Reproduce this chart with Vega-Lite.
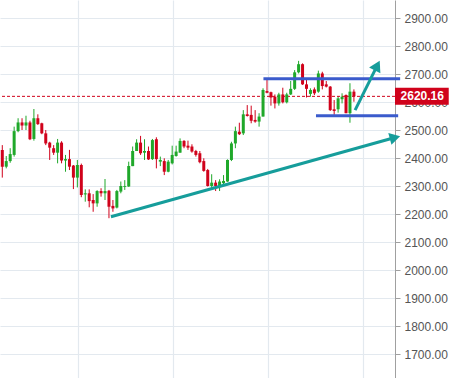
{
  "$schema": "https://vega.github.io/schema/vega-lite/v6.json",
  "width": 395,
  "height": 378,
  "padding": {"left": 0, "top": 0, "right": 54, "bottom": 0},
  "autosize": {"type": "none"},
  "background": "white",
  "config": {"view": {"stroke": null}, "font": "Liberation Sans", "scale": {"continuousPadding": 0}},
  "datasets": {
    "candles": [
      {"i":1,"o":2429,"h":2446,"l":2330,"c":2369},{"i":2,"o":2369,"h":2407,"l":2363,"c":2389},{"i":3,"o":2389,"h":2435,"l":2383,"c":2414},{"i":4,"o":2411,"h":2512,"l":2405,"c":2496},{"i":5,"o":2496,"h":2542,"l":2492,"c":2527},
      {"i":6,"o":2527,"h":2542,"l":2500,"c":2516},{"i":7,"o":2516,"h":2551,"l":2500,"c":2527},{"i":8,"o":2527,"h":2533,"l":2464,"c":2467},{"i":9,"o":2468,"h":2575,"l":2462,"c":2542},{"i":10,"o":2542,"h":2556,"l":2518,"c":2521},
      {"i":11,"o":2524,"h":2526,"l":2485,"c":2488},{"i":12,"o":2488,"h":2500,"l":2446,"c":2452},{"i":13,"o":2455,"h":2458,"l":2393,"c":2437},{"i":14,"o":2435,"h":2446,"l":2411,"c":2419},{"i":15,"o":2419,"h":2468,"l":2381,"c":2455},
      {"i":16,"o":2455,"h":2460,"l":2381,"c":2391},{"i":17,"o":2391,"h":2411,"l":2351,"c":2396},{"i":18,"o":2396,"h":2429,"l":2357,"c":2369},{"i":19,"o":2373,"h":2375,"l":2289,"c":2330},{"i":20,"o":2330,"h":2393,"l":2295,"c":2375},
      {"i":21,"o":2375,"h":2380,"l":2260,"c":2268},{"i":22,"o":2270,"h":2288,"l":2244,"c":2274},{"i":23,"o":2274,"h":2288,"l":2224,"c":2246},{"i":24,"o":2250,"h":2271,"l":2208,"c":2238},{"i":25,"o":2238,"h":2285,"l":2226,"c":2282},
      {"i":26,"o":2282,"h":2292,"l":2262,"c":2274},{"i":27,"o":2274,"h":2325,"l":2250,"c":2282},{"i":28,"o":2283,"h":2286,"l":2185,"c":2226},{"i":29,"o":2229,"h":2250,"l":2208,"c":2220},{"i":30,"o":2223,"h":2286,"l":2220,"c":2282},
      {"i":31,"o":2280,"h":2316,"l":2274,"c":2300},{"i":32,"o":2297,"h":2321,"l":2286,"c":2300},{"i":33,"o":2298,"h":2387,"l":2297,"c":2371},{"i":34,"o":2371,"h":2441,"l":2371,"c":2425},{"i":35,"o":2425,"h":2467,"l":2425,"c":2455},
      {"i":36,"o":2455,"h":2479,"l":2411,"c":2417},{"i":37,"o":2419,"h":2467,"l":2393,"c":2425},{"i":38,"o":2425,"h":2441,"l":2393,"c":2395},{"i":39,"o":2396,"h":2468,"l":2393,"c":2464},{"i":40,"o":2467,"h":2474,"l":2363,"c":2396},
      {"i":41,"o":2387,"h":2405,"l":2371,"c":2393},{"i":42,"o":2389,"h":2399,"l":2339,"c":2351},{"i":43,"o":2351,"h":2393,"l":2349,"c":2387},{"i":44,"o":2381,"h":2444,"l":2377,"c":2411},{"i":45,"o":2407,"h":2444,"l":2405,"c":2423},
      {"i":46,"o":2419,"h":2470,"l":2419,"c":2461},{"i":47,"o":2461,"h":2464,"l":2435,"c":2441},{"i":48,"o":2444,"h":2462,"l":2429,"c":2437},{"i":49,"o":2441,"h":2449,"l":2419,"c":2423},{"i":50,"o":2425,"h":2429,"l":2405,"c":2411},
      {"i":51,"o":2417,"h":2425,"l":2381,"c":2385},{"i":52,"o":2389,"h":2399,"l":2351,"c":2354},{"i":53,"o":2357,"h":2361,"l":2298,"c":2300},{"i":54,"o":2300,"h":2342,"l":2286,"c":2312},{"i":55,"o":2312,"h":2321,"l":2282,"c":2300},
      {"i":56,"o":2300,"h":2324,"l":2282,"c":2316},{"i":57,"o":2310,"h":2339,"l":2300,"c":2318},{"i":58,"o":2316,"h":2395,"l":2315,"c":2393},{"i":59,"o":2393,"h":2458,"l":2389,"c":2452},{"i":60,"o":2452,"h":2512,"l":2435,"c":2496},
      {"i":61,"o":2494,"h":2526,"l":2482,"c":2485},{"i":62,"o":2488,"h":2571,"l":2482,"c":2556},{"i":63,"o":2556,"h":2589,"l":2548,"c":2550},{"i":64,"o":2554,"h":2587,"l":2524,"c":2533},{"i":65,"o":2536,"h":2571,"l":2526,"c":2530},
      {"i":66,"o":2530,"h":2560,"l":2512,"c":2548},{"i":67,"o":2548,"h":2649,"l":2548,"c":2643},{"i":68,"o":2639,"h":2682,"l":2631,"c":2633},{"i":69,"o":2635,"h":2637,"l":2587,"c":2616},{"i":70,"o":2619,"h":2627,"l":2577,"c":2595},
      {"i":71,"o":2595,"h":2633,"l":2587,"c":2627},{"i":72,"o":2627,"h":2651,"l":2595,"c":2599},{"i":73,"o":2599,"h":2633,"l":2595,"c":2627},{"i":74,"o":2627,"h":2675,"l":2625,"c":2647},{"i":75,"o":2647,"h":2714,"l":2643,"c":2706},
      {"i":76,"o":2706,"h":2747,"l":2702,"c":2735},{"i":77,"o":2735,"h":2738,"l":2661,"c":2663},{"i":78,"o":2663,"h":2679,"l":2616,"c":2647},{"i":79,"o":2629,"h":2649,"l":2619,"c":2643},{"i":80,"o":2645,"h":2652,"l":2625,"c":2631},
      {"i":81,"o":2637,"h":2712,"l":2633,"c":2702},{"i":82,"o":2702,"h":2708,"l":2645,"c":2657},{"i":83,"o":2663,"h":2675,"l":2652,"c":2655},{"i":84,"o":2655,"h":2657,"l":2568,"c":2571},{"i":85,"o":2574,"h":2607,"l":2554,"c":2568},
      {"i":86,"o":2574,"h":2621,"l":2562,"c":2613},{"i":87,"o":2610,"h":2631,"l":2595,"c":2619},{"i":88,"o":2625,"h":2627,"l":2560,"c":2560},{"i":89,"o":2560,"h":2667,"l":2526,"c":2637},{"i":90,"o":2637,"h":2645,"l":2601,"c":2620.16}
    ],
    "levels": [
      {"start": 67.1, "end": 101.7, "price": 2683},
      {"start": 80.4, "end": 101.2, "price": 2551}
    ],
    "arrows": [
      {"id": "a1", "x0": 28.5, "y0": 2190, "x1": 100.4, "y1": 2473},
      {"id": "a2", "x0": 90.3, "y0": 2571, "x1": 95.9, "y1": 2730}
    ],
    "last": [{"price": 2620.16, "label": "2620.16"}]
  },
  "layer": [
    {
      "data": {"name": "candles"},
      "mark": {"type": "rule", "strokeWidth": 1},
      "encoding": {
        "x": {"field": "i", "type": "quantitative", "scale": {"domain": [0.42, 100.4], "nice": false, "zero": false, "padding": 0},
              "axis": {"values": [20.2, 44.2, 68.2, 92.2], "labels": false, "ticks": false, "domain": false, "grid": true, "gridColor": "#e3e9ef", "gridWidth": 1.2, "title": null}},
        "y": {"field": "l", "type": "quantitative", "scale": {"domain": [1614.3, 2964.3], "nice": false, "zero": false, "padding": 0},
              "axis": {"orient": "right", "values": [1700,1800,1900,2000,2100,2200,2300,2400,2500,2600,2700,2800,2900], "tickCount": 13, "format": ".2f", "title": null,
                       "tickSize": 5, "tickColor": "#a0a0a0", "domainColor": "#a0a0a0", "labelPadding": 4, "labelFontSize": 12, "labelColor": "#555555", "labelFont": "Liberation Sans", "labelOverlap": false,
                       "grid": true, "gridColor": "#e3e9ef", "gridWidth": 1.2}},
        "y2": {"field": "h"},
        "color": {"condition": {"test": "datum.c >= datum.o", "value": "#1fa82a"}, "value": "#d0021b"}
      }
    },
    {
      "data": {"name": "last"},
      "mark": {"type": "rule", "color": "#d0021b", "strokeWidth": 1, "strokeDash": [3, 2]},
      "encoding": {"y": {"field": "price", "type": "quantitative"}}
    },
    {
      "data": {"name": "candles"},
      "mark": {"type": "bar", "size": 3},
      "encoding": {
        "x": {"field": "i", "type": "quantitative"},
        "y": {"field": "o", "type": "quantitative"},
        "y2": {"field": "c"},
        "color": {"condition": {"test": "datum.c >= datum.o", "value": "#1fa82a"}, "value": "#d0021b"}
      }
    },
    {
      "data": {"name": "levels"},
      "mark": {"type": "rule", "color": "#3b5bcc", "strokeWidth": 3},
      "encoding": {
        "x": {"field": "start", "type": "quantitative"},
        "x2": {"field": "end"},
        "y": {"field": "price", "type": "quantitative"}
      }
    },
    {
      "data": {"name": "arrows"},
      "mark": {"type": "rule", "color": "#169d9b", "strokeWidth": 3},
      "encoding": {
        "x": {"field": "x0", "type": "quantitative"},
        "x2": {"field": "x1"},
        "y": {"field": "y0", "type": "quantitative"},
        "y2": {"field": "y1"}
      }
    },
    {
      "data": {"name": "arrows"},
      "transform": [{"filter": "datum.id == 'a1'"}],
      "mark": {"type": "point", "shape": "triangle-up", "filled": true, "opacity": 1, "color": "#169d9b", "size": 150, "angle": 75},
      "encoding": {
        "x": {"field": "x1", "type": "quantitative"},
        "y": {"field": "y1", "type": "quantitative"}
      }
    },
    {
      "data": {"name": "arrows"},
      "transform": [{"filter": "datum.id == 'a2'"}],
      "mark": {"type": "point", "shape": "triangle-up", "filled": true, "opacity": 1, "color": "#169d9b", "size": 160, "angle": 27},
      "encoding": {
        "x": {"field": "x1", "type": "quantitative"},
        "y": {"field": "y1", "type": "quantitative"}
      }
    },
    {
      "data": {"name": "last"},
      "mark": {"type": "bar", "color": "#d0021b", "size": 17, "orient": "horizontal"},
      "encoding": {
        "x": {"datum": 100.4, "type": "quantitative"},
        "x2": {"datum": 114},
        "y": {"field": "price", "type": "quantitative"}
      }
    },
    {
      "data": {"name": "last"},
      "mark": {"type": "text", "color": "white", "fontWeight": "bold", "fontSize": 12, "font": "Liberation Sans", "align": "center", "baseline": "middle"},
      "encoding": {
        "x": {"datum": 107.3, "type": "quantitative"},
        "y": {"field": "price", "type": "quantitative"},
        "text": {"field": "label"}
      }
    }
  ]
}
